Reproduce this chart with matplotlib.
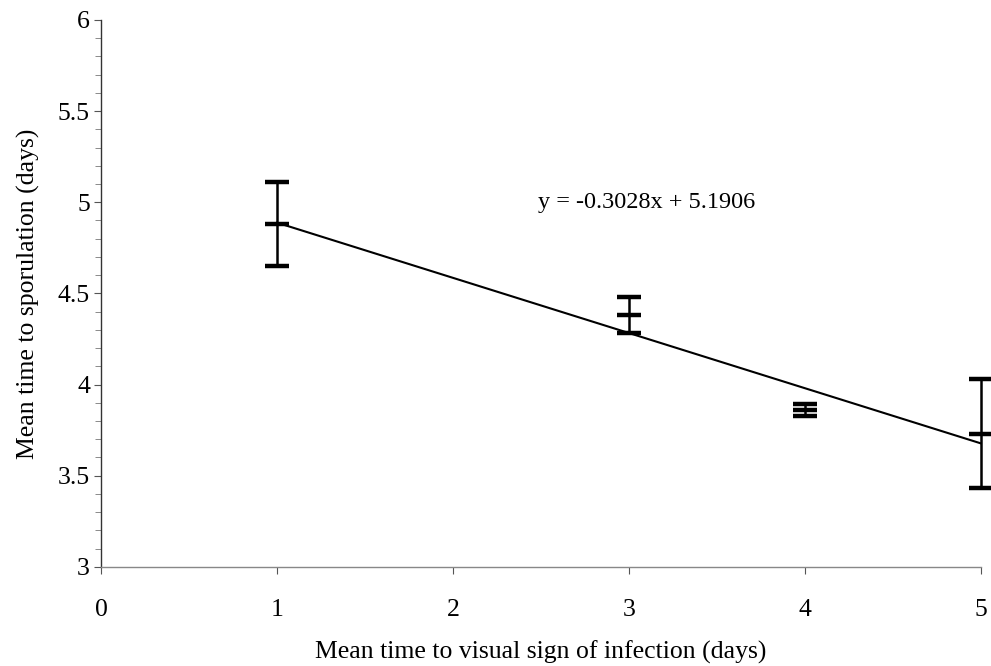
import numpy as np
import matplotlib.pyplot as plt
from matplotlib.ticker import MultipleLocator, FormatStrFormatter

days_visual = [1, 3, 4, 5]
days_sporulation = [4.88, 4.38, 3.86, 3.73]
err = [0.23, 0.10, 0.035, 0.30]
slope, intercept = -0.3028, 5.1906

plt.rcParams['font.family'] = ['Liberation Serif', 'DejaVu Serif']

fig = plt.figure(figsize=(9.91, 6.66), dpi=100)
ax = fig.add_axes([0.102, 0.149, 0.888, 0.821])

xs = np.array([min(days_visual), max(days_visual)])
ax.plot(xs, slope * xs + intercept, color='black', lw=1.5, zorder=2)

ax.errorbar(days_visual, days_sporulation, yerr=err, fmt='_', color='black',
            ecolor='black', elinewidth=1.8, capsize=8.5, capthick=1.8,
            markersize=17, mew=3.2, zorder=3, clip_on=False)

ax.text(2.48, 5.0, "y = -0.3028x + 5.1906", fontsize=17.5, va='center', ha='left')

ax.set_xlim(0, 5)
ax.set_ylim(3, 6)
ax.set_xticks([0, 1, 2, 3, 4, 5])
ax.yaxis.set_major_locator(MultipleLocator(0.5))
ax.yaxis.set_minor_locator(MultipleLocator(0.1))
ax.yaxis.set_major_formatter(FormatStrFormatter('%g'))

for s in ['top', 'right']:
    ax.spines[s].set_visible(False)
ax.spines['left'].set_color('#333333')
ax.spines['left'].set_linewidth(1.0)
ax.spines['bottom'].set_color('#888888')
ax.spines['bottom'].set_linewidth(1.0)

ax.tick_params(axis='both', labelsize=18.5, direction='out', color='#555555')
ax.tick_params(axis='y', which='major', length=5, pad=3)
ax.tick_params(axis='y', which='minor', length=4, color='#777777')
ax.tick_params(axis='x', which='major', length=5, pad=18)

ax.set_xlabel("Mean time to visual sign of infection (days)", fontsize=18.5, labelpad=14)
ax.set_ylabel("Mean time to sporulation (days)", fontsize=18.5, labelpad=13)

fig.savefig("out.png", dpi=100)
